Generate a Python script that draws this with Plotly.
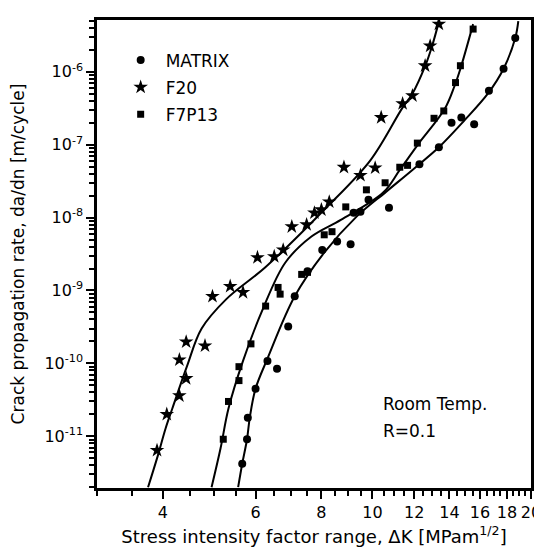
import plotly.graph_objects as go

# ---------------- data ----------------
series_names = ["MATRIX", "F20", "F7P13"]

# measured points
matrix_k = [5.66, 5.78, 5.80, 6.00, 6.32, 6.59, 6.92, 7.12, 7.53, 8.03, 8.57, 9.09, 9.21, 9.49,
            9.83, 10.75, 12.28, 13.37, 14.13, 14.75, 15.60, 16.64, 17.74, 18.67]
matrix_rate = [4.2e-12, 9.1e-12, 1.8e-11, 4.5e-11, 1.08e-10, 8.4e-11, 3.2e-10, 8.3e-10, 1.83e-9,
               3.6e-9, 4.7e-9, 4.3e-9, 1.16e-8, 1.2e-8, 1.75e-8, 1.36e-8, 5.4e-8, 9.2e-8, 2.0e-7,
               2.36e-7, 1.9e-7, 5.5e-7, 1.1e-6, 2.9e-6]

f20_k = [3.90, 4.07, 4.30, 4.43, 4.30, 4.43, 4.81, 4.97, 5.37, 5.68, 6.05, 6.51, 6.77, 7.03, 7.50,
         7.76, 8.00, 8.28, 8.83, 9.49, 10.12, 10.39, 11.41, 11.91, 12.59, 12.87, 13.37]
f20_rate = [6.4e-12, 2.0e-11, 3.6e-11, 6.2e-11, 1.12e-10, 1.97e-10, 1.74e-10, 8.3e-10, 1.14e-9,
            9.4e-10, 2.83e-9, 2.92e-9, 3.6e-9, 7.5e-9, 8.0e-9, 1.16e-8, 1.28e-8, 1.64e-8, 4.9e-8,
            3.8e-8, 4.8e-8, 2.36e-7, 3.66e-7, 4.7e-7, 1.21e-6, 2.26e-6, 4.5e-6]

f7p13_k = [5.21, 5.33, 5.58, 5.58, 5.88, 6.27, 6.62, 6.68, 7.34, 7.53, 8.10, 8.38, 8.90, 9.74,
           10.57, 11.27, 11.66, 12.17, 13.09, 13.66, 14.38, 14.69, 15.53]
f7p13_rate = [9.1e-12, 3.0e-11, 9.0e-11, 5.8e-11, 1.85e-10, 6.1e-10, 1.1e-9, 8.9e-10, 1.66e-9,
              1.77e-9, 5.8e-9, 6.4e-9, 1.4e-8, 2.4e-8, 3.0e-8, 4.9e-8, 5.2e-8, 1.05e-7, 2.3e-7,
              2.9e-7, 7.1e-7, 1.21e-6, 3.85e-6]

# fitted curves
matrix_fit_k = [5.56, 5.66, 5.78, 5.85, 6.00, 6.32, 7.12, 8.10, 9.33, 10.61, 11.91, 13.37, 14.95,
                16.56, 17.74, 18.67, 18.92]
matrix_fit_rate = [2.0e-12, 4.2e-12, 9.1e-12, 1.8e-11, 4.5e-11, 1.16e-10, 8.3e-10, 3.3e-9, 1.03e-8,
                   2.25e-8, 4.5e-8, 9.2e-8, 2.15e-7, 5.0e-7, 1.1e-6, 2.9e-6, 4.95e-6]

f20_fit_k = [3.75, 3.91, 4.05, 4.17, 4.45, 4.74, 5.28, 6.27, 8.10, 9.91, 11.40, 11.91, 12.60,
             12.98, 13.38]
f20_fit_rate = [2.0e-12, 5.3e-12, 1.29e-11, 2.4e-11, 9.3e-11, 3.0e-10, 7.6e-10, 2.1e-9, 1.28e-8,
                6.1e-8, 3.2e-7, 5.0e-7, 1.21e-6, 2.26e-6, 4.95e-6]

f7p13_fit_k = [4.95, 5.15, 5.33, 5.68, 6.19, 6.83, 7.66, 8.71, 10.48, 11.27, 12.17, 13.72, 14.32,
               14.69, 15.53]
f7p13_fit_rate = [2.0e-12, 6.9e-12, 2.4e-11, 1.08e-10, 5.5e-10, 2.4e-9, 5.5e-9, 9.3e-9, 2.2e-8,
                  4.5e-8, 9.8e-8, 3.1e-7, 6.4e-7, 1.1e-6, 4.5e-6]

# axis ticks
k_tick_vals = [4, 6, 8, 10, 12, 14, 16, 18, 20]
k_minor_vals = [3, 3.5, 4.5, 5, 5.5, 6.5, 7, 7.5, 8.5, 9, 9.5, 10.5, 11, 11.5, 12.5, 13, 13.5,
                14.5, 15, 15.5, 16.5, 17, 17.5, 18.5, 19, 19.5]
rate_tick_vals = [1e-11, 1e-10, 1e-9, 1e-8, 1e-7, 1e-6]
rate_tick_text = ["10<sup>-11</sup>", "10<sup>-10</sup>", "10<sup>-9</sup>",
                  "10<sup>-8</sup>", "10<sup>-7</sup>", "10<sup>-6</sup>"]
rate_minor_vals = [m * 10.0 ** e for e in range(-12, -5) for m in range(2, 10)]

# ---------------- figure ----------------
FONT = "DejaVu Sans"
fig = go.Figure()

for fk, fr in [(matrix_fit_k, matrix_fit_rate), (f20_fit_k, f20_fit_rate), (f7p13_fit_k, f7p13_fit_rate)]:
    fig.add_trace(go.Scatter(x=fk, y=fr, mode="lines", showlegend=False, hoverinfo="skip",
                             line=dict(color="black", width=2, shape="spline", smoothing=1)))

fig.add_trace(go.Scatter(x=matrix_k, y=matrix_rate, mode="markers", name=series_names[0],
                         legendgroup="a",
                         marker=dict(symbol="circle", size=8, color="black")))
fig.add_trace(go.Scatter(x=f20_k, y=f20_rate, mode="markers", name=series_names[1],
                         legendgroup="b",
                         marker=dict(symbol="star", size=11, color="black")))
fig.add_trace(go.Scatter(x=f7p13_k, y=f7p13_rate, mode="markers", name=series_names[2],
                         legendgroup="c",
                         marker=dict(symbol="square", size=7, color="black")))

fig.update_layout(
    width=542, height=551,
    margin=dict(l=88, r=11, t=9, b=71),
    paper_bgcolor="white", plot_bgcolor="white",
    font=dict(family=FONT, size=16, color="black"),
    showlegend=True,
    legend=dict(x=0.043, y=0.952, xanchor="left", yanchor="top", bgcolor="rgba(0,0,0,0)",
                font=dict(size=17), traceorder="grouped", tracegroupgap=2, itemwidth=40),
    xaxis=dict(type="log", range=[0.47712, 1.30103], tickmode="array", tickvals=k_tick_vals,
               ticktext=[str(v) for v in k_tick_vals], ticks="outside", ticklen=8, tickwidth=2,
               tickcolor="black", showline=True, linewidth=2.5, linecolor="black", mirror=True,
               showgrid=False, zeroline=False, tickfont=dict(size=16),
               minor=dict(tickmode="array", tickvals=k_minor_vals, ticks="outside", ticklen=5,
                          tickwidth=1.5, tickcolor="black", showgrid=False),
               title=dict(text="Stress intensity factor range, ΔK [MPam<sup>1/2</sup>]",
                          font=dict(size=18), standoff=10)),
    yaxis=dict(type="log", range=[-11.71, -5.29], tickmode="array", tickvals=rate_tick_vals,
               ticktext=rate_tick_text, ticks="outside", ticklen=8, tickwidth=2,
               tickcolor="black", showline=True, linewidth=2.5, linecolor="black", mirror=True,
               showgrid=False, zeroline=False, tickfont=dict(size=16),
               minor=dict(tickmode="array", tickvals=rate_minor_vals, ticks="outside", ticklen=5,
                          tickwidth=1.5, tickcolor="black", showgrid=False),
               title=dict(text="Crack propagation rate, da/dn [m/cycle]",
                          font=dict(size=17), standoff=16)),
    annotations=[
        dict(text="Room Temp.", x=0.655, y=0.180, xref="paper", yref="paper",
             xanchor="left", yanchor="middle", showarrow=False, font=dict(size=17)),
        dict(text="R=0.1", x=0.655, y=0.121, xref="paper", yref="paper",
             xanchor="left", yanchor="middle", showarrow=False, font=dict(size=17)),
    ],
)

fig.write_html("out.html")
